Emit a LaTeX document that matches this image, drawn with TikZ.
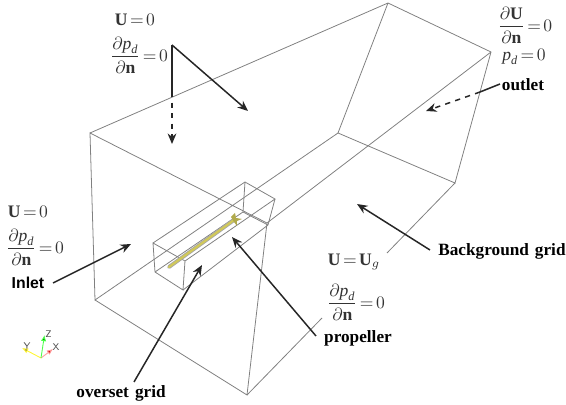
\documentclass[tikz,border=0pt]{standalone}
\usepackage{amsmath,amssymb}
\usepackage{fontspec}
\setmainfont{Liberation Serif}
\setmathrm{Liberation Serif}
\setboldmathrm{Liberation Serif}
\newfontfamily\inletfont{Liberation Sans}
\usepackage{tikz}
\usetikzlibrary{arrows.meta,positioning}
\definecolor{rodyellow}{RGB}{208,200,90}
\thickmuskip=2.5mu
\newcommand{\pd}{\text{\itshape p}_{\text{\itshape d}}}
\newcommand{\bU}{\text{\bfseries U}}
\newcommand{\bn}{\text{\bfseries n}}
\newcommand{\dfracpd}{\dfrac{\partial\pd}{\partial\bn}}

\begin{document}
\begin{tikzpicture}[
    x=0.02cm, y=-0.02cm,
    gridline/.style={draw=black!50, line width=0.45pt},
    arrow/.style={-{Stealth[length=6pt,width=5pt]}, line width=0.85pt, black!85},
    dasharrow/.style={arrow, dashed},
    plainlink/.style={line width=0.85pt, black!85},
    formula/.style={inner sep=0pt, text=black!80, font=\normalsize},
    tag/.style={inner sep=0pt, font=\bfseries\fontsize{9.8}{12}\selectfont, text=black},
    axislabel/.style={inner sep=0pt, text=black!70, font=\sffamily\fontsize{5.5}{6}\selectfont},
    rod/.style={line width=#1, line cap=round}
]
    \useasboundingbox (0,0) rectangle (566,405);

    % Background grid corners
    \coordinate (bgA) at (90,133);
    \coordinate (bgB) at (388,3);
    \coordinate (bgC) at (491,52);
    \coordinate (bgD) at (455,183);
    \coordinate (bgE) at (338,133);
    \coordinate (bgF) at (95,300);
    \coordinate (bgG) at (247,395);
    \coordinate (bgH) at (267,223);
    \coordinate (gapUp) at (387,253);
    \coordinate (gapDown) at (322,318);

    % Background grid edges
    \draw[gridline] (bgA) -- (bgB) -- (bgC) -- (bgD) -- (bgE) -- (bgB);
    \draw[gridline] (bgE) -- (bgF) -- (bgA) -- (bgH) -- (bgC);
    \draw[gridline] (bgF) -- (bgG) -- (bgH);
    \draw[gridline] (bgD) -- (gapUp);
    \draw[gridline] (gapDown) -- (bgG);

    % Overset grid corners
    \coordinate (ovA) at (153,243);
    \coordinate (ovB) at (245,182);
    \coordinate (ovC) at (275,199);
    \coordinate (ovD) at (185,261);
    \coordinate (ovE) at (155,272);
    \coordinate (ovF) at (183,290);
    \coordinate (ovG) at (268,225);
    \coordinate (ovH) at (243,212);

    % Overset grid edges
    \draw[gridline] (ovA) -- (ovB) -- (ovC) -- (ovD) -- (ovA) -- (ovE) -- (ovF) -- (ovD);
    \draw[gridline] (ovC) -- (ovG) -- (ovF);
    \draw[gridline] (ovE) -- (ovH) -- (ovB);
    \draw[gridline] (ovH) -- (ovG);

    % Propeller
    \coordinate (shaftEnd) at (169,267);
    \coordinate (hub) at (234,220);
    \draw[rod=2.2pt, black!35] (shaftEnd) -- (hub);
    \draw[rod=1.3pt, rodyellow] (shaftEnd) -- (hub);
    \fill[rodyellow!85!black] (hub) ++(-3,-3) -- ++(4,-4) -- ++(1,5) -- ++(6,1) -- ++(-5,2) -- ++(0,5) -- ++(-3,-4) -- cycle;

    % Boundary conditions
    \node[formula] (topU) at (135,20) {$\bU=0$};
    \node[formula] (topP) at (139,55) {$\dfracpd=0$};
    \node[formula] (leftU) at (28,212) {$\bU=0$};
    \node[formula] (leftP) at (35,247) {$\dfracpd=0$};
    \node[formula] (outU) at (525,25) {$\dfrac{\partial\bU}{\partial\bn}=0$};
    \node[formula] (outP) at (524,57) {$\pd=0$};
    \node[formula] (botU) at (354,262) {$\bU=\bU_g$};
    \node[formula] (botP) at (356,302) {$\dfracpd=0$};

    % Labels
    \node[tag] (outlet) at (523,85) {outlet};
    \node[tag] (bggrid) at (502,251) {Background\hspace{0.35em}grid};
    \node[tag] (prop) at (358,338) {propeller};
    \node[tag] (ovgrid) at (121,393) {overset\hspace{0.35em}grid};
    \node[tag, font=\inletfont\bfseries\fontsize{9}{11}\selectfont] (inlet) at (28,283) {Inlet};

    % Arrow ends
    \coordinate (fork) at (172,45);
    \coordinate (forkMid) at (172,92);
    \coordinate (forkDown) at (172,144);
    \coordinate (forkRight) at (248,111);
    \coordinate (outStart) at (500,84);
    \coordinate (outMid) at (480,92);
    \coordinate (outEnd) at (426,111);
    \coordinate (bgStart) at (430,250);
    \coordinate (bgEnd) at (357,204);
    \coordinate (inStart) at (53,283);
    \coordinate (inEnd) at (131,244);
    \coordinate (propStart) at (316,336);
    \coordinate (propEnd) at (232,237);
    \coordinate (ovStart) at (134,382);
    \coordinate (ovEnd) at (202,265);

    % Arrows
    \draw[plainlink] (fork) -- (forkMid);
    \draw[dasharrow] (forkMid) -- (forkDown);
    \draw[arrow] (fork) -- (forkRight);
    \draw[plainlink] (outStart) -- (outMid);
    \draw[dasharrow] (outMid) -- (outEnd);
    \draw[arrow] (bgStart) -- (bgEnd);
    \draw[arrow] (inStart) -- (inEnd);
    \draw[arrow] (propStart) -- (propEnd);
    \draw[arrow] (ovStart) -- (ovEnd);

    % Axes
    \coordinate (origin) at (41,358);
    \node[axislabel] (axX) at (56,347) {X};
    \node[axislabel] (axY) at (27,346) {Y};
    \node[axislabel] (axZ) at (48.5,334.5) {Z};
    \draw[-{Latex[length=3.5pt,width=3pt,fill=red!80!black]}, red!40, line width=0.5pt] (origin) -- (53,349);
    \draw[-{Latex[length=3.5pt,width=3pt,fill=yellow!50!black]}, yellow!80, line width=0.5pt] (origin) -- (22,348);
    \draw[-{Latex[length=3.5pt,width=3pt,fill=green!60!black]}, green!70, line width=0.5pt] (origin) -- (44.5,335);
\end{tikzpicture}
\end{document}
